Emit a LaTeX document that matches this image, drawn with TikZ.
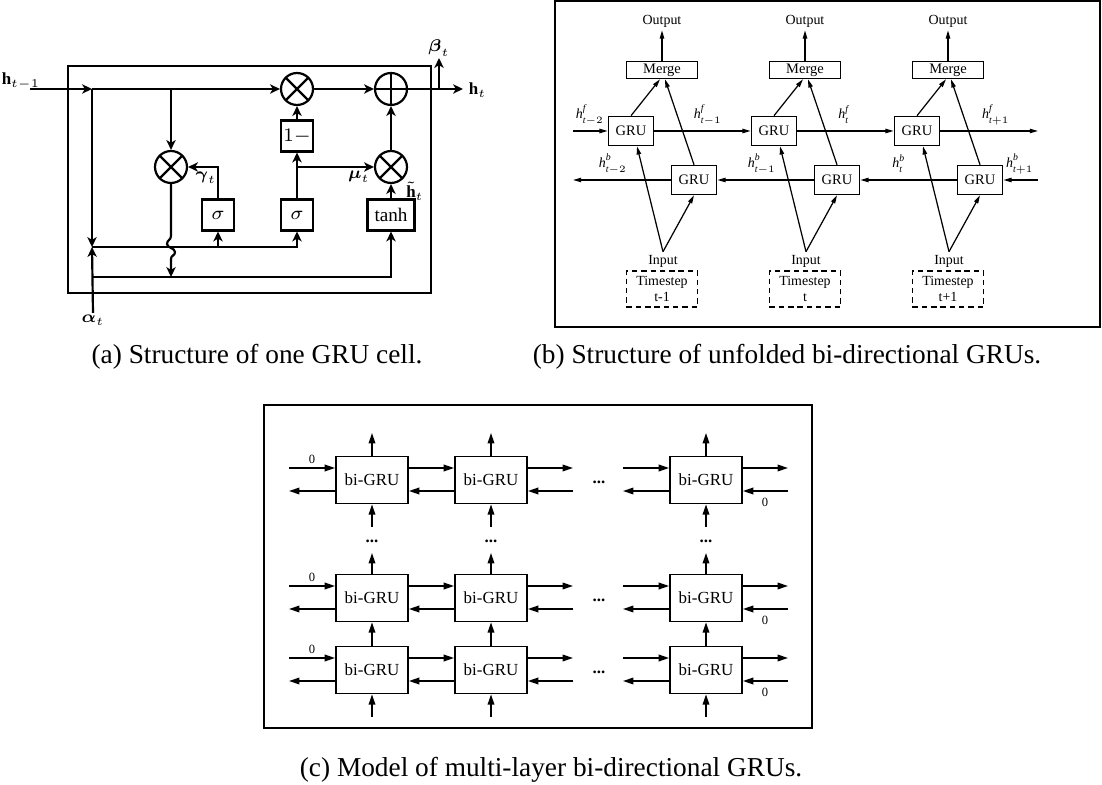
\RequirePackage{fix-cm}
\documentclass[tikz,border=0pt]{standalone}
\usepackage{fontspec}
\setmainfont{Liberation Serif}
\usepackage{amsmath}
\usetikzlibrary{arrows.meta,calc,positioning}

\newcommand{\hfw}[2]{$\textit{h}^{\textit{#1}\vphantom{\textit{f}}}_{\textit{t}#2}$}

\begin{document}
\begin{tikzpicture}[x=0.366pt,y=-0.366pt,
  % (a) one GRU cell
  ln/.style={line width=0.8pt},
  ar/.style={ln,-{Stealth[length=3.6pt,width=3.4pt,inset=1pt]}},
  cellbox/.style={draw,ln,minimum width=11.7pt,minimum height=11.3pt,inner sep=0pt,font=\fontsize{7}{8}\selectfont},
  op/.style={draw,ln,circle,minimum size=11.7pt,inner sep=0pt},
  otimes/.style={op,path picture={\draw[ln] (path picture bounding box.north west) -- (path picture bounding box.south east)
      (path picture bounding box.south west) -- (path picture bounding box.north east);}},
  oplus/.style={op,path picture={\draw[ln] (path picture bounding box.north) -- (path picture bounding box.south)
      (path picture bounding box.west) -- (path picture bounding box.east);}},
  alab/.style={inner sep=0.5pt,font=\fontsize{6.2}{7}\selectfont},
  % (b) unfolded bi-GRU
  arb/.style={line width=0.45pt,-{Triangle[length=3pt,width=1.6pt]}},
  grub/.style={draw,line width=0.6pt,minimum width=16.5pt,minimum height=10.6pt,inner sep=0pt,font=\fontsize{5.3}{6}\selectfont},
  mergebox/.style={grub,minimum width=26pt,minimum height=6.2pt},
  tsbox/.style={draw,line width=0.6pt,dashed,dash pattern=on 2pt off 1.4pt,minimum width=26pt,minimum height=13.2pt,inner sep=0pt,align=center,font=\fontsize{5.1}{5.6}\selectfont},
  blab/.style={inner sep=1pt,font=\fontsize{5.1}{6}\selectfont},
  % (c) multi-layer
  arc/.style={line width=0.6pt,-{Triangle[length=3.8pt,width=2.4pt]}},
  bigru/.style={draw,line width=0.6pt,minimum width=26.4pt,minimum height=17.2pt,inner sep=0pt,font=\fontsize{6.2}{7}\selectfont},
  zero/.style={inner sep=0pt,font=\fontsize{4.6}{5}\selectfont},
  dotsc/.style={inner sep=0pt,font=\bfseries\fontsize{6.2}{7}\selectfont},
  frame/.style={draw,line width=0.6pt},
  capt/.style={inner sep=0pt,font=\fontsize{10}{12}\selectfont}]

\useasboundingbox (0,0) rectangle (1102,785);

% ---------------- (a) GRU cell ----------------
\draw[ln] (68,66) rectangle (431,293);
\node[otimes] (mr) at (171,167) {};
\node[otimes] (mz) at (297,89) {};
\node[oplus] (add) at (391,89) {};
\node[otimes] (mh) at (391,167) {};
\node[cellbox] (sr) at (218,215) {$\sigma$};
\node[cellbox] (sz) at (297,215) {$\sigma$};
\node[cellbox] (one) at (297,136) {$1-$};
\node[cellbox,minimum width=17.2pt] (th) at (391,215) {$\tanh$};

\node[alab] (hin) at (21,81) {$\mathbf{h}_{t-1}$};
\node[alab,anchor=west] (hout) at (467,90) {$\mathbf{h}_t$};
\node[alab] (beta) at (439,48) {$\boldsymbol{\beta}_t$};
\node[alab] (alpha) at (93,320) {$\boldsymbol{\alpha}_t$};
\node[alab] (gam) at (206,178) {$\boldsymbol{\gamma}_t$};
\node[alab] (mu) at (359,177) {$\boldsymbol{\mu}_t$};
\node[alab] (hti) at (415,191) {$\tilde{\mathbf{h}}_t$};

\coordinate (hs) at (30,89);
\coordinate (j1) at (92,89);
\coordinate (j2) at (92,247);
\coordinate (j3) at (92,277);
\coordinate (j4) at (171,277);
\coordinate (j5) at (171,89);
\coordinate (ho) at (463,89);

\draw[ar] (hs) -- (j1);
\draw[ar] (j1) -- (mz.west);
\draw[ar] (j5) -- (mr.north);
\draw[ar] (j1) -- (j2);
\draw[ar] (alpha.north) -- (j2);
\draw[ar] (j2) -| (sz.south);
\draw[ar] (sr |- j2) -- (sr.south);
\draw[ar] (j3) -| (th.south);
\draw[ar] (mr.south) -- (171,236) .. controls (171,240) and (167,240) .. (167,244)
  .. controls (167,248) and (175,248) .. (175,252) .. controls (175,256) and (171,255) .. (171,259) -- (j4);
\draw[ar] (sr.north) |- (mr.east);
\draw[ar] (sz.north) -- (one.south);
\draw[ar] (sz |- mh) -- (mh.west);
\draw[ar] (one.north) -- (mz.south);
\draw[ar] (mz.east) -- (add.west);
\draw[ar] (mh.north) -- (add.south);
\draw[ar] (th.north) -- (mh.south);
\draw[ar] (add.east) -- (ho);
\draw[ar] (add -| beta) -- (beta.south);

\node[capt] (capa) at (257,357) {(a) Structure of one GRU cell.};

% ---------------- (b) unfolded bi-directional GRUs ----------------
\draw[frame] (555,1) rectangle (1100,327);
\foreach \i/\t in {1/t-1,2/t,3/t+1}{
  \pgfmathsetmacro\dx{143*(\i-1)}
  \node[grub] (f\i) at (631+\dx,131) {GRU};
  \node[grub] (b\i) at (694+\dx,180) {GRU};
  \node[mergebox] (m\i) at (662+\dx,70) {Merge};
  \node[blab] (o\i) at (662+\dx,21) {Output};
  \node[blab] (in\i) at (663+\dx,261) {Input};
  \node[tsbox] (ts\i) at (662+\dx,289) {Timestep\\\t};
  \draw[arb] (m\i.north) -- (o\i.south);
  \draw[arb] (f\i.north) -- ($(m\i.south)+(-2,0)$);
  \draw[arb] (b\i.north) -- ($(m\i.south)+(3,0)$);
  \draw[arb] (in\i.north) -- ($(f\i.south)+(6,0)$);
  \draw[arb] (in\i.north) -- (b\i.south);
}
\coordinate (fin) at (573,131);
\coordinate (fout) at (1038,131);
\coordinate (bin) at (1038,180);
\coordinate (bout) at (573,180);
\draw[arb] (fin) -- (f1);
\draw[arb] (f1) -- (f2);
\draw[arb] (f2) -- (f3);
\draw[arb] (f3) -- (fout);
\draw[arb] (bin) -- (b3);
\draw[arb] (b3) -- (b2);
\draw[arb] (b2) -- (b1);
\draw[arb] (b1) -- (bout);

\node[blab] (hf1) at (590,115) {\hfw{f}{-2}};
\node[blab] (hf2) at (708,115) {\hfw{f}{-1}};
\node[blab] (hf3) at (844,115) {\hfw{f}{}};
\node[blab] (hf4) at (996,115) {\hfw{f}{+1}};
\node[blab] (hb1) at (613,164) {\hfw{b}{-2}};
\node[blab] (hb2) at (762,164) {\hfw{b}{-1}};
\node[blab] (hb3) at (899,164) {\hfw{b}{}};
\node[blab] (hb4) at (1020,164) {\hfw{b}{+1}};

\node[capt] (capb) at (787,357) {(b) Structure of unfolded bi-directional GRUs.};

% ---------------- (c) multi-layer bi-directional GRUs ----------------
\draw[frame] (264,405) rectangle (812,728);
\foreach \row/\cy in {1/480,2/598,3/670}{
  \foreach \col/\cx in {1/372,2/491,3/706}
    \node[bigru] (g\row\col) at (\cx,\cy) {bi-GRU};
  \coordinate (el\row) at (289,\cy);
  \coordinate (gl\row) at (573,\cy);
  \coordinate (gr\row) at (623,\cy);
  \coordinate (er\row) at (788,\cy);
  \node[zero] (zl\row) at (312,\cy-21) {0};
  \node[zero] (zr\row) at (765,\cy+22) {0};
  \node[dotsc] (hd\row) at (599,\cy+2) {...};
  \draw[arc] ($(el\row)+(0,-12)$) -- ($(g\row1.west)+(0,-12)$);
  \draw[arc] ($(g\row1.west)+(0,11)$) -- ($(el\row)+(0,11)$);
  \draw[arc] ($(g\row1.east)+(0,-12)$) -- ($(g\row2.west)+(0,-12)$);
  \draw[arc] ($(g\row2.west)+(0,11)$) -- ($(g\row1.east)+(0,11)$);
  \draw[arc] ($(g\row2.east)+(0,-12)$) -- ($(gl\row)+(0,-12)$);
  \draw[arc] ($(gl\row)+(0,11)$) -- ($(g\row2.east)+(0,11)$);
  \draw[arc] ($(gr\row)+(0,-12)$) -- ($(g\row3.west)+(0,-12)$);
  \draw[arc] ($(g\row3.west)+(0,11)$) -- ($(gr\row)+(0,11)$);
  \draw[arc] ($(g\row3.east)+(0,-12)$) -- ($(er\row)+(0,-12)$);
  \draw[arc] ($(er\row)+(0,11)$) -- ($(g\row3.east)+(0,11)$);
}
\foreach \col/\cx in {1/372,2/491,3/706}{
  \coordinate (top\col) at (\cx,433);
  \coordinate (up\col) at (\cx,527);
  \coordinate (dn\col) at (\cx,553);
  \coordinate (bot\col) at (\cx,717);
  \node[dotsc] (vd\col) at (\cx,541) {...};
  \draw[arc] (g1\col.north) -- (top\col);
  \draw[arc] (up\col) -- (g1\col.south);
  \draw[arc] (g2\col.north) -- (dn\col);
  \draw[arc] (g3\col.north) -- (g2\col.south);
  \draw[arc] (bot\col) -- (g3\col.south);
}

\node[capt] (capc) at (551,770) {(c) Model of multi-layer bi-directional GRUs.};

\end{tikzpicture}
\end{document}
